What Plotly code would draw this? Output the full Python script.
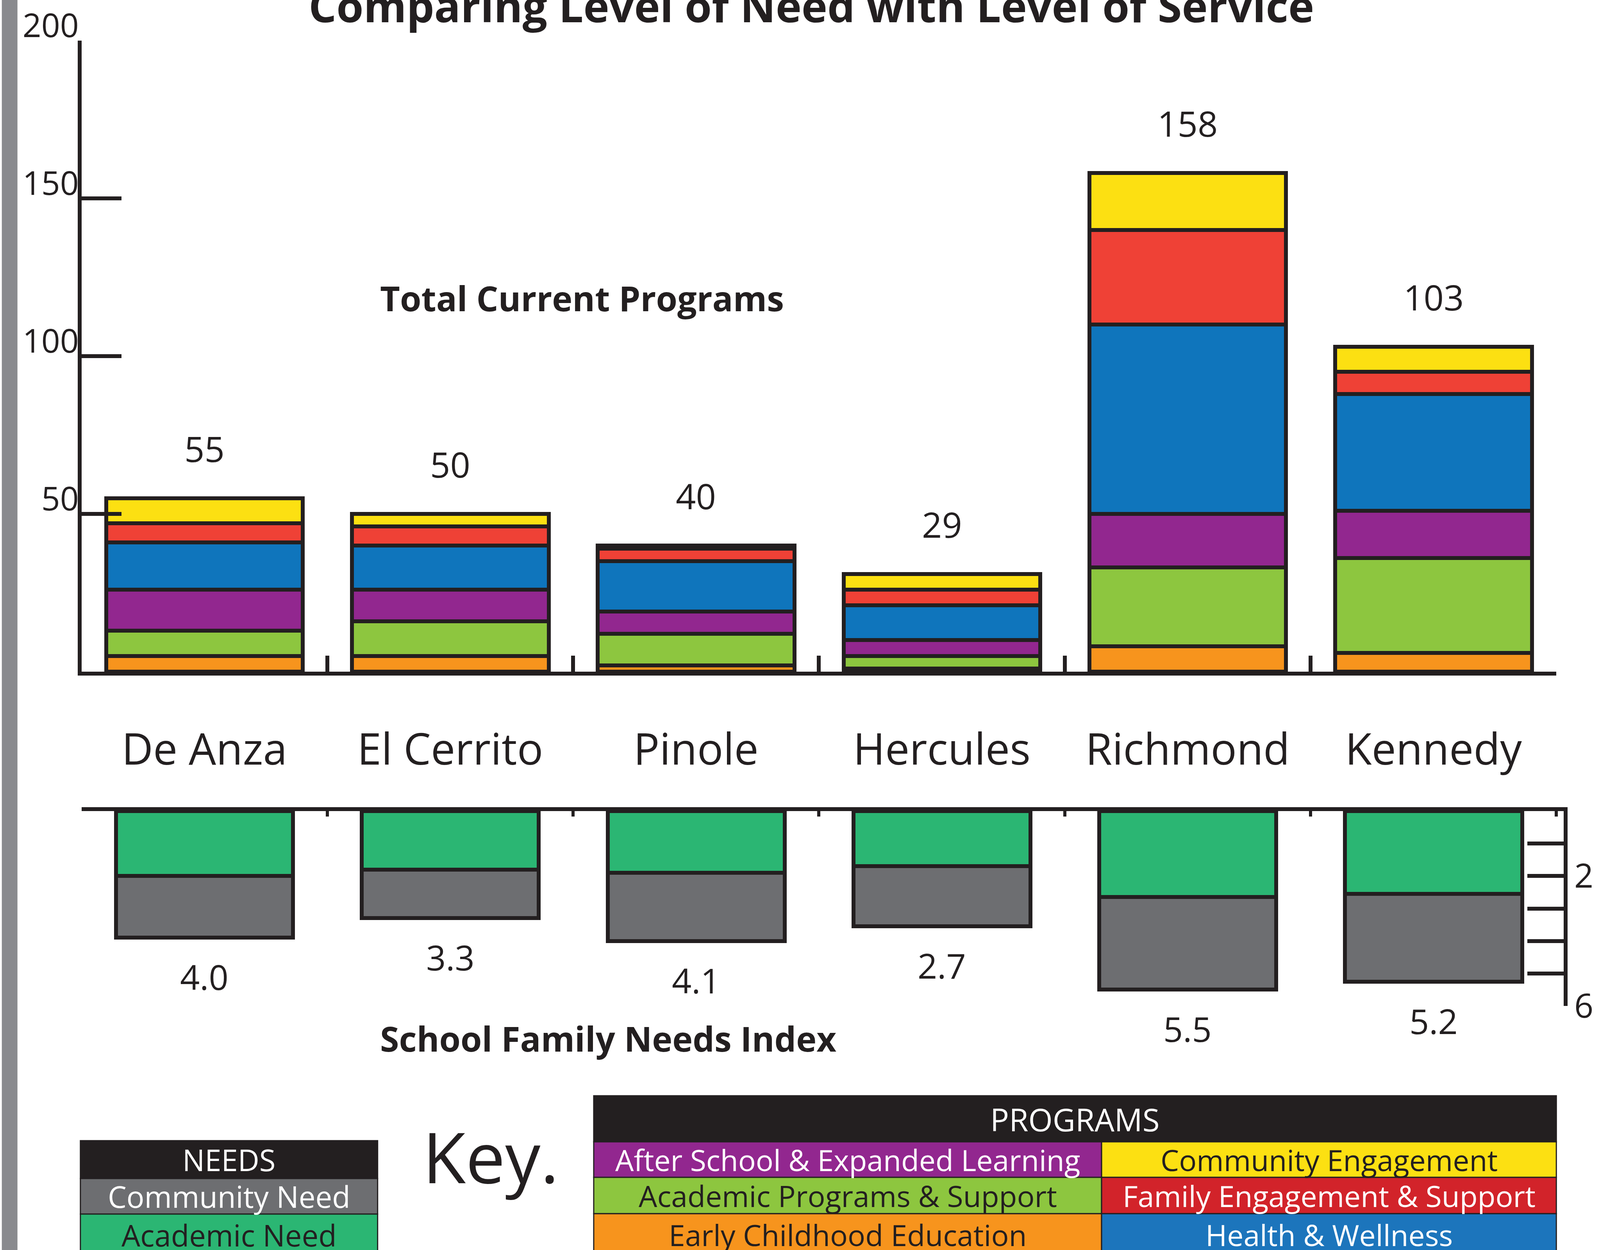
import plotly.graph_objects as go

# reference frame (used to express positions as fractions) and actual page size
REF_W, REF_H = 4398, 3201
W, H = 4096, 3201
SX = W / REF_W  # horizontal pixel scale of the page vs the reference frame

# ---------------- data ----------------
schools = ["De Anza", "El Cerrito", "Pinole", "Hercules", "Richmond", "Kennedy"]

# Total current programs, stacked bottom -> top
early_childhood = [5, 5, 2, 1, 8, 6]
academic_programs = [8, 11, 10, 4, 25, 30]
after_school = [13, 10, 7, 5, 17, 15]
health_wellness = [15, 14, 16, 11, 60, 37]
family_engagement = [6, 6, 4, 5, 30, 7]
community_engagement = [8, 4, 1, 5, 18, 8]
program_total_labels = ["55", "50", "40", "29", "158", "103"]

# School family needs index, stacked from the top line downward
academic_need = [2.0, 1.8, 1.9, 1.7, 2.65, 2.55]
community_need = [1.9, 1.5, 2.1, 1.85, 2.85, 2.7]
need_index_labels = ["4.0", "3.3", "4.1", "2.7", "5.5", "5.2"]

program_tick_vals = [50, 100, 150, 200]
need_tick_vals = [0, 1, 2, 3, 4, 5, 6]
need_tick_text = ["", "", "2", "", "", "", "6"]

# ---------------- style ----------------
BLACK = "#231F20"
FONT = "Open Sans"
C_ORANGE = "#F7941D"
C_LGREEN = "#8DC63F"
C_PURPLE = "#92278F"
C_BLUE = "#0F75BC"
C_RED = "#EF4136"
C_YELLOW = "#FCE012"
C_NEED_GREEN = "#2BB673"
C_NEED_GRAY = "#6D6E71"
C_LEG_RED = "#D2232A"
C_LEG_BLUE = "#1C75BC"


def px(x):
    return x / REF_W


def py(y):
    return (REF_H - y) / REF_H


fig = go.Figure()

program_series = [
    ("Early Childhood Education", early_childhood, C_ORANGE),
    ("Academic Programs & Support", academic_programs, C_LGREEN),
    ("After School & Expanded Learning", after_school, C_PURPLE),
    ("Health & Wellness", health_wellness, C_BLUE),
    ("Family Engagement & Support", family_engagement, C_RED),
    ("Community Engagement", community_engagement, C_YELLOW),
]
for name, vals, col in program_series:
    fig.add_trace(go.Bar(
        x=schools, y=vals, name=name, width=0.8,
        marker=dict(color=col, line=dict(color=BLACK, width=10)),
        xaxis="x", yaxis="y", showlegend=False, hoverinfo="skip",
    ))

for name, vals, col in [("Academic Need", academic_need, C_NEED_GREEN),
                        ("Community Need", community_need, C_NEED_GRAY)]:
    fig.add_trace(go.Bar(
        x=schools, y=vals, name=name, width=0.72,
        marker=dict(color=col, line=dict(color=BLACK, width=10)),
        xaxis="x2", yaxis="y2", showlegend=False, hoverinfo="skip",
    ))

annotations = []
for i, s in enumerate(schools):
    top = sum(v[i] for _, v, _ in program_series)
    annotations.append(dict(x=s, y=top, xref="x", yref="y", text=program_total_labels[i],
                            showarrow=False, yshift=128, font=dict(size=90, color=BLACK, family=FONT)))
    bottom = academic_need[i] + community_need[i]
    annotations.append(dict(x=s, y=bottom, xref="x2", yref="y2", text=need_index_labels[i],
                            showarrow=False, yshift=-100, font=dict(size=88, color=BLACK, family=FONT)))

annotations.append(dict(x=px(2230), y=py(13), xref="paper", yref="paper",
                        text="Comparing Level of Need with Level of Service", showarrow=False,
                        xanchor="center", yanchor="middle",
                        font=dict(size=112, color=BLACK, family=FONT, weight=700)))
annotations.append(dict(x=px(1043), y=py(763), xref="paper", yref="paper",
                        text="Total Current Programs", showarrow=False,
                        xanchor="left", yanchor="middle",
                        font=dict(size=88, color=BLACK, family=FONT, weight=700)))
annotations.append(dict(x=px(1043), y=py(2659), xref="paper", yref="paper",
                        text="School Family Needs Index", showarrow=False,
                        xanchor="left", yanchor="middle",
                        font=dict(size=88, color=BLACK, family=FONT, weight=700)))
annotations.append(dict(x=px(1160), y=py(2960), xref="paper", yref="paper",
                        text="Key.", showarrow=False, xanchor="left", yanchor="middle",
                        font=dict(size=180, color=BLACK, family=FONT)))

shapes = []
shapes.append(dict(type="rect", xref="paper", yref="paper", x0=px(5), x1=px(48), y0=0, y1=1,
                   fillcolor="#898A8E", line=dict(width=0), layer="below"))


def cell(x0, x1, y0, y1, fill, text, tcolor, size):
    shapes.append(dict(type="rect", xref="paper", yref="paper", x0=px(x0), x1=px(x1),
                       y0=py(y1), y1=py(y0), fillcolor=fill, line=dict(color=BLACK, width=3)))
    annotations.append(dict(x=px((x0 + x1) / 2), y=py((y0 + y1) / 2), xref="paper", yref="paper",
                            text=text, showarrow=False, xanchor="center", yanchor="middle",
                            font=dict(size=size, color=tcolor, family=FONT)))


# NEEDS key
cell(221, 1038, 2921, 3018, BLACK, "NEEDS", "white", 76)
cell(221, 1038, 3018, 3109, C_NEED_GRAY, "Community Need", "white", 76)
cell(221, 1038, 3109, 3215, C_NEED_GREEN, "Academic Need", BLACK, 76)

# PROGRAMS key
cell(1632, 4278, 2806, 2924, BLACK, "PROGRAMS", "white", 80)
cell(1632, 3028, 2924, 3015, C_PURPLE, "After School &amp; Expanded Learning", "white", 75)
cell(3028, 4278, 2924, 3015, C_YELLOW, "Community Engagement", BLACK, 75)
cell(1632, 3028, 3015, 3108, C_LGREEN, "Academic Programs &amp; Support", BLACK, 75)
cell(3028, 4278, 3015, 3108, C_LEG_RED, "Family Engagement &amp; Support", "white", 75)
cell(1632, 3028, 3108, 3215, C_ORANGE, "Early Childhood Education", BLACK, 75)
cell(3028, 4278, 3108, 3215, C_LEG_BLUE, "Health &amp; Wellness", "white", 75)

fig.update_layout(
    width=W, height=H,
    margin=dict(l=0, r=0, t=0, b=0, autoexpand=False),
    paper_bgcolor="white", plot_bgcolor="rgba(0,0,0,0)",
    barmode="stack", bargap=0,
    showlegend=False,
    font=dict(family=FONT, color=BLACK),
    xaxis=dict(
        domain=[px(224), px(4278)], anchor="y", type="category", automargin=False,
        categoryorder="array", categoryarray=schools, range=[-0.5, 5.5],
        showline=True, linecolor=BLACK, linewidth=10, showgrid=False, zeroline=False,
        ticks="inside", tickson="boundaries", ticklen=41, tickwidth=10, tickcolor=BLACK,
        tickfont=dict(size=111, color=BLACK, family=FONT), ticklabelstandoff=95,
    ),
    yaxis=dict(
        domain=[py(1720), py(104)], anchor="x", range=[0, 200], automargin=False,
        showline=True, linecolor=BLACK, linewidth=10, showgrid=False, zeroline=False,
        tickmode="array", tickvals=program_tick_vals,
        ticks="inside", ticklen=round(110 * SX), tickwidth=10, tickcolor=BLACK,
        tickfont=dict(size=84, color=BLACK, family=FONT),
        ticklabelshift=-38, ticklabelstandoff=-20,
    ),
    xaxis2=dict(
        domain=[px(224), px(4298)], anchor="y2", side="top", type="category", automargin=False,
        categoryorder="array", categoryarray=schools, range=[-0.5, 5.5 + 20 / 675.7],
        showline=True, linecolor=BLACK, linewidth=10, showgrid=False, zeroline=False,
        ticks="inside", tickson="boundaries", ticklen=14, tickwidth=8, tickcolor=BLACK,
        showticklabels=False,
    ),
    yaxis2=dict(
        domain=[py(2576), py(2077)], anchor="x2", side="right", range=[6, 0], automargin=False,
        showline=True, linecolor=BLACK, linewidth=10, showgrid=False, zeroline=False,
        tickmode="array", tickvals=need_tick_vals, ticktext=need_tick_text,
        ticks="inside", ticklen=round(100 * SX), tickwidth=10, tickcolor=BLACK,
        tickfont=dict(size=86, color=BLACK, family=FONT), ticklabelstandoff=0,
    ),
    annotations=annotations,
    shapes=shapes,
)

fig.write_html("out.html", config={"displayModeBar": False},
               post_script="document.body.style.margin='0';")
